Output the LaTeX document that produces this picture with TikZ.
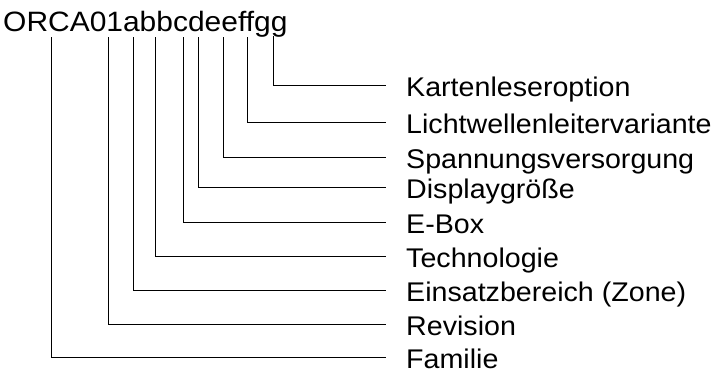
\documentclass[tikz,border=0pt]{standalone}
\usepackage{fontspec}
\setmainfont{Liberation Sans}
\newfontfamily\labfont[FakeStretch=1.06]{Liberation Sans}
\newfontfamily\ttlfont[FakeStretch=1.07]{Liberation Sans}
\begin{document}
\begin{tikzpicture}[x=1pt,y=-1pt,
  conn/.style={line width=1pt,black},
  lab/.style={anchor=west,inner ysep=0pt,inner xsep=20pt,text height=22.5pt,text depth=0pt,font=\labfont\fontsize{27}{31}\selectfont},
  ttl/.style={anchor=base west,inner sep=0pt,font=\ttlfont\fontsize{28}{33}\selectfont}]
\useasboundingbox (0,0) rectangle (719,370);
\node[ttl] (title) at (3,31.7) {ORCA01abbcdeeffgg};
\coordinate (tO) at (51,37);
\coordinate (tR) at (108,37);
\coordinate (tA) at (133,37);
\coordinate (tB) at (155,37);
\coordinate (tC) at (183,37);
\coordinate (tD) at (198,37);
\coordinate (tE) at (223,37);
\coordinate (tF) at (247,37);
\coordinate (tG) at (273,36);
\node[lab] (lG) at (386,85) {Kartenleseroption};
\node[lab] (lF) at (386,122) {Lichtwellenleitervariante};
\node[lab] (lE) at (386,157) {Spannungsversorgung};
\node[lab] (lD) at (386,187) {Displaygröße};
\node[lab] (lC) at (386,222) {E-Box};
\node[lab] (lB) at (386,256) {Technologie};
\node[lab] (lA) at (386,290) {Einsatzbereich (Zone)};
\node[lab] (lR) at (386,324) {Revision};
\node[lab] (lO) at (386,357) {Familie};
\draw[conn] (tG) |- (lG.west);
\draw[conn] (tF) |- (lF.west);
\draw[conn] (tE) |- (lE.west);
\draw[conn] (tD) |- (lD.west);
\draw[conn] (tC) |- (lC.west);
\draw[conn] (tB) |- (lB.west);
\draw[conn] (tA) |- (lA.west);
\draw[conn] (tR) |- (lR.west);
\draw[conn] (tO) |- (lO.west);
\end{tikzpicture}
\end{document}
